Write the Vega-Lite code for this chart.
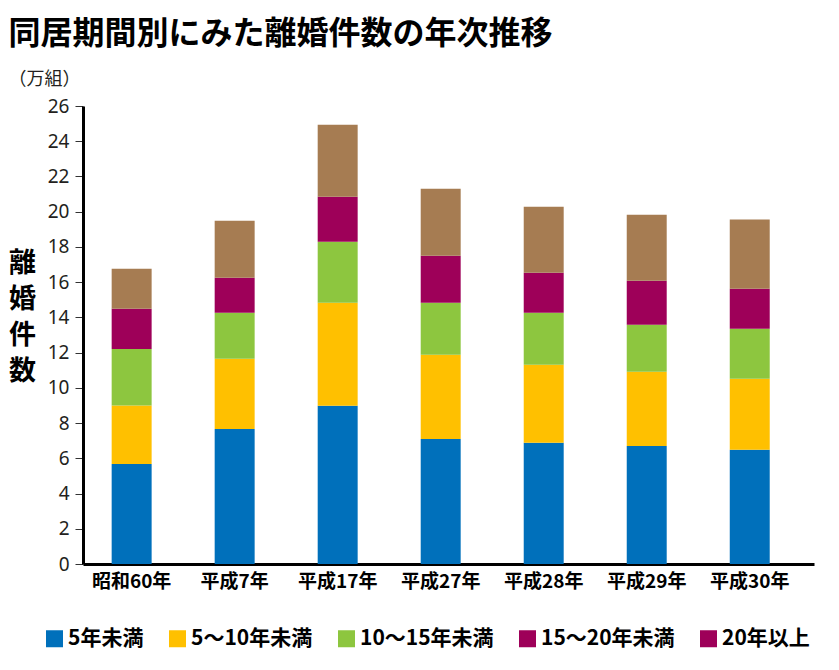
{
  "$schema": "https://vega.github.io/schema/vega-lite/v6.json",
  "width": 731,
  "height": 458,
  "autosize": {"type": "pad"},
  "padding": {"left": 8, "top": 18, "right": 10, "bottom": 10},
  "background": "white",
  "title": {
    "text": "同居期間別にみた離婚件数の年次推移",
    "subtitle": "（万組）",
    "anchor": "start",
    "frame": "bounds",
    "font": "Noto Sans CJK JP",
    "fontSize": 32,
    "fontWeight": "bold",
    "color": "#000000",
    "subtitleFont": "Noto Sans CJK JP",
    "subtitleFontSize": 18,
    "subtitleColor": "#231f20",
    "subtitlePadding": 20,
    "offset": 7
  },
  "data": {
    "values": [
      {"period": "昭和60年", "category": "5年未満", "k": 1, "value": 5.68},
      {"period": "昭和60年", "category": "5～10年未満", "k": 2, "value": 3.32},
      {"period": "昭和60年", "category": "10～15年未満", "k": 3, "value": 3.2},
      {"period": "昭和60年", "category": "15～20年未満", "k": 4, "value": 2.29},
      {"period": "昭和60年", "category": "20年以上", "k": 5, "value": 2.27},
      {"period": "平成7年", "category": "5年未満", "k": 1, "value": 7.67},
      {"period": "平成7年", "category": "5～10年未満", "k": 2, "value": 3.98},
      {"period": "平成7年", "category": "10～15年未満", "k": 3, "value": 2.61},
      {"period": "平成7年", "category": "15～20年未満", "k": 4, "value": 1.99},
      {"period": "平成7年", "category": "20年以上", "k": 5, "value": 3.24},
      {"period": "平成17年", "category": "5年未満", "k": 1, "value": 8.98},
      {"period": "平成17年", "category": "5～10年未満", "k": 2, "value": 5.85},
      {"period": "平成17年", "category": "10～15年未満", "k": 3, "value": 3.47},
      {"period": "平成17年", "category": "15～20年未満", "k": 4, "value": 2.55},
      {"period": "平成17年", "category": "20年以上", "k": 5, "value": 4.09},
      {"period": "平成27年", "category": "5年未満", "k": 1, "value": 7.1},
      {"period": "平成27年", "category": "5～10年未満", "k": 2, "value": 4.78},
      {"period": "平成27年", "category": "10～15年未満", "k": 3, "value": 2.95},
      {"period": "平成27年", "category": "15～20年未満", "k": 4, "value": 2.67},
      {"period": "平成27年", "category": "20年以上", "k": 5, "value": 3.8},
      {"period": "平成28年", "category": "5年未満", "k": 1, "value": 6.88},
      {"period": "平成28年", "category": "5～10年未満", "k": 2, "value": 4.43},
      {"period": "平成28年", "category": "10～15年未満", "k": 3, "value": 2.95},
      {"period": "平成28年", "category": "15～20年未満", "k": 4, "value": 2.27},
      {"period": "平成28年", "category": "20年以上", "k": 5, "value": 3.75},
      {"period": "平成29年", "category": "5年未満", "k": 1, "value": 6.7},
      {"period": "平成29年", "category": "5～10年未満", "k": 2, "value": 4.21},
      {"period": "平成29年", "category": "10～15年未満", "k": 3, "value": 2.67},
      {"period": "平成29年", "category": "15～20年未満", "k": 4, "value": 2.5},
      {"period": "平成29年", "category": "20年以上", "k": 5, "value": 3.75},
      {"period": "平成30年", "category": "5年未満", "k": 1, "value": 6.48},
      {"period": "平成30年", "category": "5～10年未満", "k": 2, "value": 4.03},
      {"period": "平成30年", "category": "10～15年未満", "k": 3, "value": 2.84},
      {"period": "平成30年", "category": "15～20年未満", "k": 4, "value": 2.28},
      {"period": "平成30年", "category": "20年以上", "k": 5, "value": 3.92}
    ]
  },
  "mark": {"type": "bar"},
  "encoding": {
    "x": {
      "field": "period",
      "type": "nominal",
      "sort": ["昭和60年", "平成7年", "平成17年", "平成27年", "平成28年", "平成29年", "平成30年"],
      "scale": {"paddingInner": 0.612, "paddingOuter": 0.354, "align": 0.393},
      "axis": {
        "title": null,
        "labelAngle": 0,
        "ticks": false,
        "domainWidth": 3,
        "domainColor": "#000000",
        "labelFont": "Noto Sans CJK JP",
        "labelFontWeight": "bold",
        "labelFontSize": 19,
        "labelColor": "#000000",
        "labelPadding": 8
      }
    },
    "y": {
      "field": "value",
      "type": "quantitative",
      "stack": "zero",
      "scale": {"domain": [0, 26], "nice": false},
      "axis": {
        "values": [0, 2, 4, 6, 8, 10, 12, 14, 16, 18, 20, 22, 24, 26],
        "grid": false,
        "title": ["離", "婚", "件", "数"],
        "titleAngle": 0,
        "titleX": -61,
        "titleY": 144,
        "titleAlign": "center",
        "titleBaseline": "top",
        "titleLineHeight": 36,
        "titleFont": "Noto Sans CJK JP",
        "titleFontSize": 27,
        "titleFontWeight": "bold",
        "titleColor": "#000000",
        "domainWidth": 3,
        "domainColor": "#000000",
        "tickSize": 8,
        "tickColor": "#333333",
        "tickWidth": 1,
        "labelFont": "Noto Sans",
        "labelFontSize": 19,
        "labelColor": "#231f20",
        "labelPadding": 6
      }
    },
    "color": {
      "condition": {"test": "datum.category === '20年以上'", "value": "#a67c52"},
      "field": "category",
      "type": "nominal",
      "sort": ["5年未満", "5～10年未満", "10～15年未満", "15～20年未満", "20年以上"],
      "scale": {
        "domain": ["5年未満", "5～10年未満", "10～15年未満", "15～20年未満", "20年以上"],
        "range": ["#0070bb", "#ffc000", "#8dc63f", "#9e0059", "#9e0059"]
      },
      "legend": {
        "title": null,
        "orient": "none",
        "legendX": -39,
        "legendY": 522,
        "direction": "horizontal",
        "columns": 5,
        "columnPadding": 23,
        "padding": 0,
        "symbolType": "square",
        "symbolSize": 289,
        "symbolStrokeWidth": 0,
        "labelFont": "Noto Sans CJK JP",
        "labelFontSize": 21,
        "labelFontWeight": "bold",
        "labelColor": "#000000",
        "labelOffset": 3,
        "labelLimit": 300
      }
    },
    "order": {"field": "k", "type": "quantitative", "sort": "ascending"}
  },
  "config": {"view": {"stroke": null}}
}
